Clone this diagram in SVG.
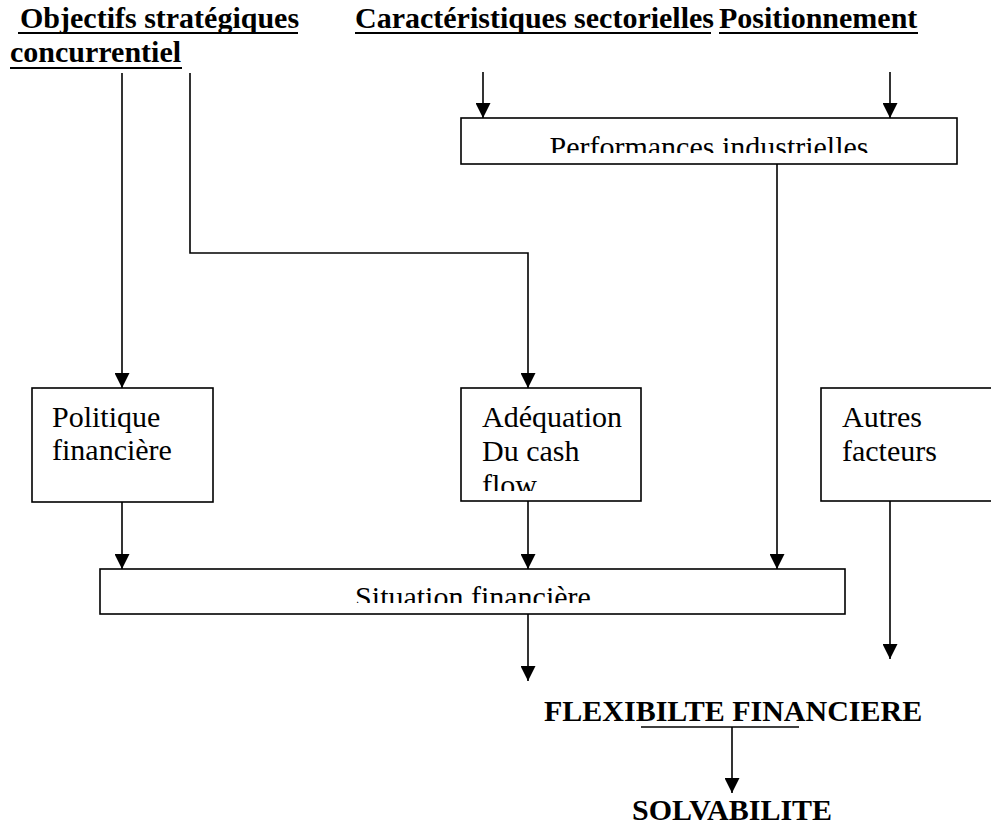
<svg xmlns="http://www.w3.org/2000/svg" width="991" height="828" viewBox="0 0 991 828">
<style>
.t{font-family:"Liberation Serif","Times New Roman",serif;font-size:30px;fill:#000}
.b{font-weight:bold}
.box{fill:#fff;stroke:#000;stroke-width:1.6}
.ln{fill:none;stroke:#000;stroke-width:1.6}
.ul{stroke:#000;stroke-width:2}
</style>
<defs>
<marker id="ah" markerWidth="15" markerHeight="15" refX="15" refY="7.5" orient="auto" markerUnits="userSpaceOnUse">
<path d="M0,0 L15,7.5 L0,15 Z" fill="#000"/>
</marker>
<clipPath id="cPerf"><rect x="461" y="118" width="496" height="35"/></clipPath>
<clipPath id="cSit"><rect x="100" y="569" width="745" height="34"/></clipPath>
<clipPath id="cAde"><rect x="461" y="388" width="180" height="103"/></clipPath>
</defs>

<g id="titles">
<text class="t b" x="20" y="28">Objectifs stratégiques</text>
<line class="ul" x1="18" y1="33" x2="298" y2="33"/>
<text class="t b" x="10" y="62">concurrentiel</text>
<line class="ul" x1="10" y1="68" x2="182" y2="68"/>
<text class="t b" x="355" y="28">Caractéristiques sectorielles</text>
<line class="ul" x1="355" y1="33" x2="711" y2="33"/>
<text class="t b" x="719" y="28">Positionnement</text>
<line class="ul" x1="719" y1="33" x2="918" y2="33"/>
</g>

<g id="connectors">
<line class="ln" x1="122" y1="73" x2="122" y2="388" marker-end="url(#ah)"/>
<polyline class="ln" points="190,73 190,253 528,253 528,388" marker-end="url(#ah)"/>
<line class="ln" x1="483" y1="72" x2="483" y2="118" marker-end="url(#ah)"/>
<line class="ln" x1="890" y1="72" x2="890" y2="118" marker-end="url(#ah)"/>
<line class="ln" x1="777" y1="164" x2="777" y2="569" marker-end="url(#ah)"/>
<line class="ln" x1="122" y1="502" x2="122" y2="569" marker-end="url(#ah)"/>
<line class="ln" x1="528" y1="501" x2="528" y2="569" marker-end="url(#ah)"/>
<line class="ln" x1="528" y1="614" x2="528" y2="681" marker-end="url(#ah)"/>
<line class="ln" x1="890" y1="501" x2="890" y2="659" marker-end="url(#ah)"/>
<line class="ln" x1="641" y1="727" x2="799" y2="727"/>
<line class="ln" x1="732" y1="727" x2="732" y2="793" marker-end="url(#ah)"/>
</g>

<g id="performances">
<rect class="box" x="461" y="118" width="496" height="46"/>
<text class="t" x="709" y="157" text-anchor="middle" clip-path="url(#cPerf)">Performances industrielles</text>
</g>

<g id="politique">
<rect class="box" x="32" y="388" width="181" height="114"/>
<text class="t" x="52" y="427">Politique</text>
<text class="t" x="52" y="460">financière</text>
</g>

<g id="adequation">
<rect class="box" x="461" y="388" width="180" height="113"/>
<g clip-path="url(#cAde)">
<text class="t" x="482" y="427">Adéquation</text>
<text class="t" x="482" y="461">Du cash</text>
<text class="t" x="482" y="495">flow</text>
</g>
</g>

<g id="autres">
<rect class="box" x="821" y="388" width="180" height="113"/>
<text class="t" x="842" y="427">Autres</text>
<text class="t" x="842" y="461">facteurs</text>
</g>

<g id="situation">
<rect class="box" x="100" y="569" width="745" height="45"/>
<text class="t" x="473" y="607" text-anchor="middle" clip-path="url(#cSit)">Situation financière</text>
</g>

<g id="flexibilite">
<text class="t b" x="544" y="721">FLEXIBILTE FINANCIERE</text>
</g>

<g id="solvabilite">
<text class="t b" x="632" y="820">SOLVABILITE</text>
</g>
</svg>
